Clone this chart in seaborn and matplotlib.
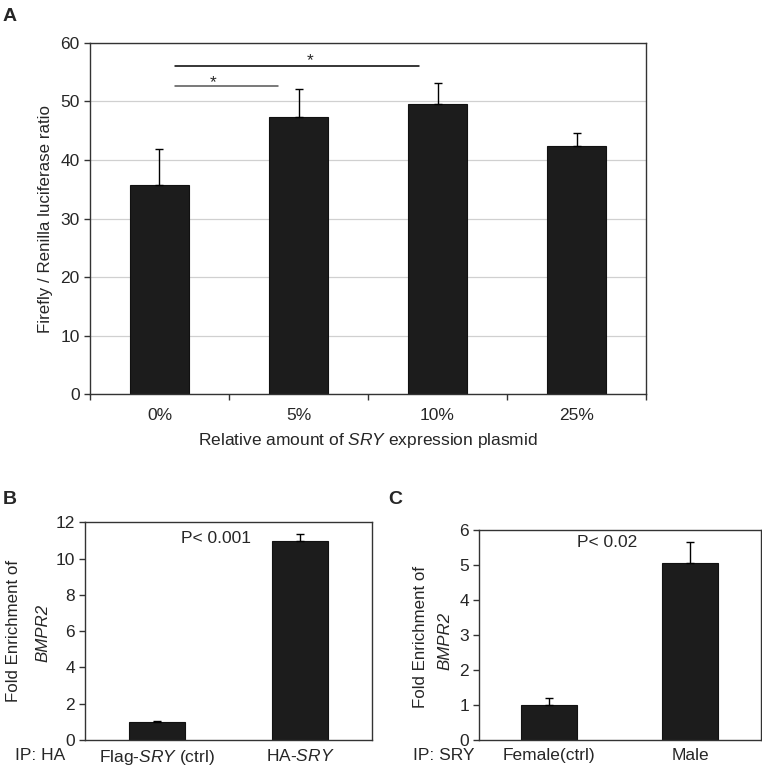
import matplotlib
matplotlib.use("Agg")
import matplotlib.pyplot as plt
import seaborn as sns

# panel A data
a_cats = ["0%", "5%", "10%", "25%"]
a_vals = [35.8, 47.4, 49.6, 42.4]
a_err = [6.0, 4.8, 3.6, 2.3]

# panel B data
b_cats = ["Flag-$\\it{SRY}$ (ctrl)", "HA-$\\it{SRY}$"]
b_vals = [0.97, 10.97]
b_err = [0.06, 0.38]

# panel C data
c_cats = ["Female(ctrl)", "Male"]
c_vals = [1.0, 5.07]
c_err = [0.19, 0.58]

sns.set_theme(style="white")
plt.rcParams["font.family"] = ["Liberation Sans", "DejaVu Sans"]
plt.rcParams["mathtext.fontset"] = "custom"
plt.rcParams["mathtext.rm"] = "Liberation Sans"
plt.rcParams["mathtext.it"] = "Liberation Sans:italic"

FS = 12.5   # horizontal text
FSV = 12.2  # rotated axis titles
BAR = "#1c1c1c"
SPINE = "#333333"

fig = plt.figure(figsize=(7.62, 7.69), dpi=100)
axA = fig.add_axes([0.1181, 0.4876, 0.7297, 0.4565])
axB = fig.add_axes([0.1115, 0.0377, 0.3767, 0.2831])
axC = fig.add_axes([0.6282, 0.0377, 0.3701, 0.2731])


def bars(ax, cats, vals, errs, width):
    sns.barplot(x=cats, y=vals, color=BAR, saturation=1, width=width,
                edgecolor="#111111", linewidth=0.8, ax=ax)
    ax.errorbar(range(len(vals)), vals, yerr=[[0] * len(errs), errs],
                fmt="none", ecolor="black", elinewidth=1.0, capsize=2.6,
                capthick=1.0)
    for s in ax.spines.values():
        s.set_color(SPINE)
        s.set_linewidth(1.0)


# ---- panel A ----
bars(axA, a_cats, a_vals, a_err, 0.42)
axA.set_xlim(-0.5, 3.5)
axA.set_ylim(0, 60)
axA.set_yticks(range(0, 61, 10))
axA.yaxis.grid(True, color="#d0d0d0", linewidth=0.9)
axA.set_axisbelow(True)
axA.set_xticks([-0.5, 0.5, 1.5, 2.5, 3.5], minor=True)
axA.tick_params(axis="x", which="minor", direction="out", length=4.5,
                width=1, color=SPINE, bottom=True)
axA.tick_params(axis="x", which="major", length=0, pad=10, labelsize=FS)
axA.tick_params(axis="y", direction="out", length=4.5, width=1, color=SPINE,
                left=True, pad=3, labelsize=FS)
axA.set_ylabel("Firefly / Renilla luciferase ratio", fontsize=FSV, labelpad=5)
axA.set_xlabel("Relative amount of $\\it{SRY}$ expression plasmid",
               fontsize=FS, labelpad=6)

# significance brackets
axA.plot([0.11, 0.85], [52.6, 52.6], color="#555555", lw=1.1)
axA.plot([0.11, 1.87], [56.1, 56.1], color="black", lw=1.1)
axA.text(0.385, 52.4, "*", ha="center", va="baseline", fontsize=FS)
axA.text(1.08, 56.3, "*", ha="center", va="baseline", fontsize=FS)

# ---- panel B ----
bars(axB, b_cats, b_vals, b_err, 0.39)
axB.set_xlim(-0.5, 1.5)
axB.set_ylim(0, 12)
axB.set_yticks(range(0, 13, 2))
axB.tick_params(axis="x", length=0, pad=6, labelsize=FS)
axB.tick_params(axis="y", direction="out", length=4, width=1, color=SPINE,
                left=True, pad=3, labelsize=FS)
axB.text(-0.249, 0.5, "Fold Enrichment of", rotation=90, ha="center",
         va="center", fontsize=FSV, transform=axB.transAxes)
axB.text(-0.146, 0.49, "BMPR2", rotation=90, ha="center", va="center",
         fontsize=FSV, style="italic", transform=axB.transAxes)
axB.text(-0.244, -0.038, "IP: HA", ha="left", va="top", fontsize=FS,
         transform=axB.transAxes)
axB.text(0.41, 11.08, "P< 0.001", ha="center", va="center", fontsize=FS)

# ---- panel C ----
bars(axC, c_cats, c_vals, c_err, 0.40)
axC.set_xlim(-0.5, 1.5)
axC.set_ylim(0, 6)
axC.set_yticks(range(0, 7))
axC.tick_params(axis="x", length=0, pad=6, labelsize=FS)
axC.tick_params(axis="y", direction="out", length=4, width=1, color=SPINE,
                left=True, pad=3, labelsize=FS)
axC.text(-0.208, 0.49, "Fold Enrichment of", rotation=90, ha="center",
         va="center", fontsize=FSV, transform=axC.transAxes)
axC.text(-0.118, 0.47, "BMPR2", rotation=90, ha="center", va="center",
         fontsize=FSV, style="italic", transform=axC.transAxes)
axC.text(-0.233, -0.04, "IP: SRY", ha="left", va="top", fontsize=FS,
         transform=axC.transAxes)
axC.text(0.41, 5.63, "P< 0.02", ha="center", va="center", fontsize=FS)

# panel letters
fig.text(0.003, 0.979, "A", fontsize=14, fontweight="bold", va="center")
fig.text(0.003, 0.351, "B", fontsize=14, fontweight="bold", va="center")
fig.text(0.509, 0.351, "C", fontsize=14, fontweight="bold", va="center")

fig.savefig("out.png", dpi=100)
